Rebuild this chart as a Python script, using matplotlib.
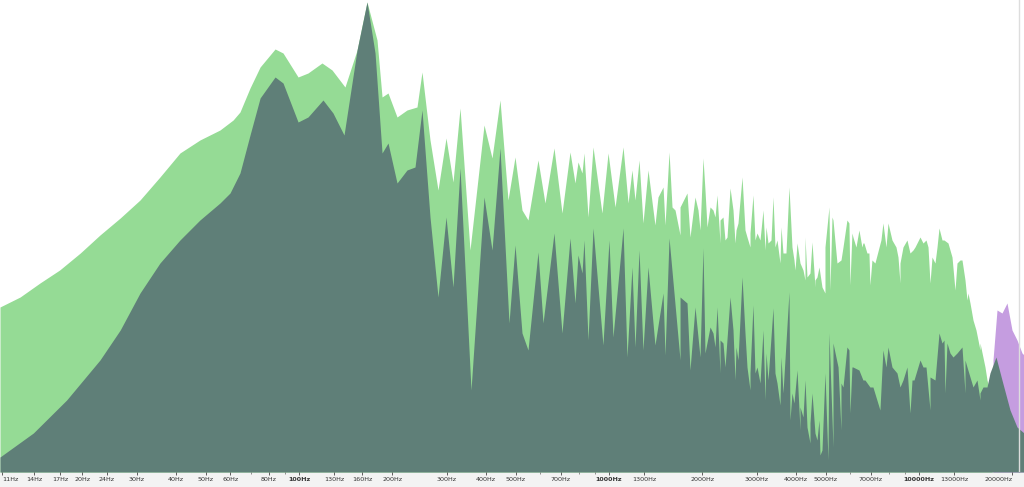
import numpy as np
import matplotlib
matplotlib.use("Agg")
import matplotlib.pyplot as plt
from matplotlib.ticker import FixedLocator, NullFormatter

# peak level (light green): smooth body
peak_hz = [10.85, 12.6, 14.6, 16.9, 19.7, 22.8, 26.5, 30.7, 35.6, 41.3, 47.9, 55.6, 61.3, 64.5, 69.5, 74.9,
           83.7, 88.8, 99.3, 106.9, 118.6, 127.8, 140.7, 153.9, 165.7, 178.5, 185.3, 193.7, 207.1, 223.0,
           240.2, 249.3, 264.6, 280.8, 298.0, 313.9, 330.7, 356.1, 395.2, 419.4, 445.0, 472.3, 497.5, 524.0,
           547.9, 590.1, 621.6, 664.6, 705.3, 748.5, 776.8, 794.3, 818.3, 830.5, 855.6, 888.0,
           949, 993, 1046, 1110, 1152, 1186, 1213, 1250, 1287, 1407, 1516, 1695, 1825, 1966, 2281, 2550,
           2850, 3186, 3561, 3981, 4288, 4618, 4974, 5162, 5987, 6946, 8683, 10852, 13066, 14284, 14935,
           15732, 16572, 17195]
peak_db = [-61.4, -59.4, -56.6, -54.0, -50.6, -47.0, -43.6, -40.0, -35.4, -30.6, -28.0, -26.0, -24.0, -22.4,
           -17.6, -13.4, -9.8, -10.6, -15.4, -14.6, -12.6, -14.0, -17.4, -10.0, -0.4, -8.0, -19.4, -18.6,
           -23.4, -22.0, -21.4, -14.4, -28.0, -38.0, -27.6, -36.4, -21.6, -50.0, -25.0, -31.6, -20.0, -40.0,
           -31.4, -42.0, -44.0, -32.0, -40.6, -29.6, -42.6, -30.4, -36.6, -32.4, -34.6, -30.6, -43.4, -29.4,
           -42.6, -30.6, -41.4, -29.4, -40.6, -34.0, -40.0, -32.0, -44.6, -45.0, -45.0, -47.0, -47.4, -46.0,
           -48.6, -48.6, -49.4, -50.0, -52.6, -54.0, -56.0, -57.4, -58.6, -58.0, -57.0, -57.0, -56.6, -56.6,
           -58.0, -60.0, -64.0, -70.0, -76.0, -80.0]

# peak level: thin spikes above the body
peak_spike_hz = [1336, 1387, 1439, 1494, 1562, 1597, 1633, 1695, 1785, 1894, 1937, 2010, 2040, 2071, 2118,
                 2165, 2198, 2231, 2281, 2332, 2367, 2403, 2457, 2512, 2569, 2607, 2686, 2746, 2787, 2850,
                 2914, 2958, 3002, 3070, 3139, 3210, 3258, 3331, 3381, 3431, 3483, 3588, 3641, 3723, 3807,
                 3893, 3951, 4041, 4132, 4225, 4288, 4352, 4450, 4517, 4618, 4687, 4758, 4865, 4974, 5124,
                 5240, 5279, 5438, 5602, 5687, 5855, 5943, 6077, 6122, 6262, 6401, 6545, 6594, 6643, 6793,
                 6895, 7050, 7209, 7537, 7650, 7826, 7943, 8182, 8429, 8555, 8683, 8879, 9146, 9352, 9564,
                 9707, 9853, 10075, 10302, 10534, 10692, 11015, 11263, 11432, 11602, 11864, 12041, 12404,
                 12778, 13262, 13560, 13763, 14073, 14391, 14606, 14935, 15271, 15732, 16327]
peak_spike_db = [-34.0, -42.0, -39.4, -37.4, -30.4, -41.4, -42.0, -41.4, -38.6, -39.4, -42.0, -31.6, -38.0,
                 -45.4, -41.4, -42.0, -43.4, -39.0, -44.0, -43.4, -48.0, -47.4, -37.6, -42.0, -46.0, -44.6,
                 -35.4, -46.0, -47.4, -46.6, -39.0, -48.0, -46.6, -48.0, -42.0, -45.4, -48.6, -48.0, -39.4,
                 -49.4, -48.0, -45.4, -50.6, -50.6, -37.4, -49.4, -52.0, -48.6, -52.6, -54.0, -47.4, -55.4,
                 -54.6, -48.4, -56.0, -55.4, -53.4, -57.4, -49.4, -41.4,
                 -43.4, -44.0, -52.6, -52.0, -49.4, -44.0, -44.6, -46.6, -47.4, -49.4, -46.0, -49.4, -48.6,
                 -48.6, -50.6, -50.6, -52.0, -52.6, -48.0, -44.6, -49.4, -44.6, -48.0, -49.4, -51.4, -52.6,
                 -49.4, -48.0, -50.6, -50.0, -49.4, -48.6, -47.4, -48.6, -48.0, -49.4, -51.4, -52.6, -49.4,
                 -45.6, -48.0, -48.0, -48.6, -51.4, -52.6, -52.0, -52.0, -56.0, -58.6, -60.6, -64.0, -66.0,
                 -68.6, -73.4]

# peak level above the cut-off (purple)
high_hz = [17327, 17850, 18525, 19226, 19953, 20708, 21491, 21813]
high_db = [-72.0, -62.0, -62.6, -60.6, -66.0, -68.0, -70.6, -71.0]

# average level (dark): body
avg_hz = [10.85, 13.9, 17.8, 22.8, 26.5, 30.7, 35.6, 41.3, 47.9, 55.6, 59.9, 64.5, 69.5, 74.9, 83.7, 88.8,
          99.3, 106.9, 119.5, 128.7, 139.7, 153.9, 165.7, 175.9, 185.3, 193.7, 207.1, 223.0, 236.7, 249.3,
          264.6, 280.8, 298.0, 313.9, 330.7, 358.8, 395.2, 419.4, 445.0, 475.8, 497.5, 524.0, 547.9, 590.1,
          612.5, 664.6, 705.3, 748.5, 776.8, 794.3, 818.3, 830.5, 855.6, 888.0,
          956, 1000, 1030, 1110, 1143, 1186, 1213, 1250, 1287, 1407, 1516, 1695, 1825, 1966, 2281, 2550,
          2850, 3186, 3561, 3836, 4132, 4450, 4793, 5086, 5279, 5602, 5987, 7482, 9352, 10852, 12130,
          14073, 15732, 16572, 16941, 17713, 18521, 19661, 20710, 21812]
avg_db = [-91.4, -86.6, -80.0, -72.0, -66.0, -58.6, -52.6, -48.0, -44.0, -40.6, -38.6, -34.6, -27.0, -19.6,
          -15.4, -16.6, -24.4, -23.4, -20.0, -22.6, -27.0, -10.0, -0.4, -10.6, -30.6, -28.6, -36.6, -34.0,
          -33.4, -22.0, -43.4, -59.4, -43.4, -57.4, -33.6, -78.0, -39.4, -50.0, -29.6, -64.6, -49.0, -66.6,
          -70.0, -50.4, -64.6, -46.6, -66.6, -47.6, -60.6, -51.0, -54.6, -48.0, -68.0, -45.6,
          -69.0, -48.0, -67.4, -45.6, -71.4, -53.4, -69.4, -50.0, -70.0, -69.0, -71.0, -72.0, -74.0, -71.4,
          -74.6, -76.0, -78.0, -80.0, -81.0, -84.0, -86.0, -88.6, -91.0, -92.0, -89.4, -86.0, -82.6, -82.0,
          -82.6, -82.0, -78.6, -78.6, -80.0, -77.4, -74.6, -71.4, -76.0, -82.0, -85.4, -86.6]

# average level: thin spikes above the body
avg_spike_hz = [1336, 1494, 1562, 1695, 1785, 1894, 2010, 2040, 2118, 2165, 2198, 2231, 2281, 2332, 2367,
                2457, 2512, 2569, 2607, 2686, 2746, 2787, 2850, 2914, 2958, 3002, 3070, 3139, 3210, 3258,
                3381, 3431, 3483, 3588, 3641, 3807, 3893, 3951, 4041, 4132, 4225, 4288, 4352, 4450, 4517,
                4618, 4687, 4758, 4865, 4974, 5124, 5279, 5481, 5602, 5687, 5855, 5943, 6077, 6122, 6401,
                6594, 6693, 6946, 7102, 7650, 7826, 7943, 8182, 8492, 8683, 8879, 9146, 9494, 9636, 10075,
                10302, 10534, 10852, 11263, 11602, 11864, 12041, 12312, 12589, 12873, 13262, 13763, 14073,
                14284, 14935, 15384, 15732, 16086]
avg_spike_db = [-53.4, -58.6, -47.6, -59.4, -60.6, -61.4, -49.6, -70.6, -65.4, -66.6, -69.4, -61.4, -68.0,
                -68.6, -73.4, -59.4, -66.0, -69.4, -72.0, -55.4, -66.6, -73.4, -74.6, -61.0, -74.6, -73.4,
                -76.6, -66.0, -70.6, -76.0, -61.6, -74.6, -76.6, -71.4, -78.6, -58.4, -78.6, -80.6, -74.0,
                -81.4, -83.4, -76.0, -85.4, -84.6, -78.6, -86.6, -88.0, -84.0, -90.0, -74.6, -66.6, -68.6,
                -73.4, -76.6, -77.4, -69.4, -70.0, -73.4, -73.4, -74.0,
                -76.0, -76.0, -77.4, -77.4, -70.0, -73.4, -69.4, -73.4, -74.6, -77.4, -76.0, -73.4, -76.0,
                -76.0, -72.0, -73.4, -73.4, -75.4, -76.0, -66.6, -68.6, -68.0, -68.6, -70.6, -71.4, -70.6,
                -69.4, -72.0, -73.4, -77.4, -76.0, -78.6, -77.4]

tick_hz = [11, 14, 17, 20, 24, 30, 40, 50, 60, 80, 100, 130, 160, 200, 300, 400, 500, 700,
           1000, 1300, 2000, 3000, 4000, 5000, 7000, 10000, 13000, 20000]
bold_hz = [100, 1000, 10000]

floor_db = -94.4
green = '#95db95'
dark = '#5f7f78'
purple = '#c59de0'


def outline(body_hz, body_db, spike_hz, spike_db):
    # body readings and spike tops merged in frequency order
    hz = np.array(body_hz + spike_hz, dtype=float)
    db = np.array(body_db + spike_db, dtype=float)
    order = np.argsort(hz, kind='stable')
    return hz[order], db[order]


fig = plt.figure(figsize=(10.24, 4.87), dpi=100)
fig.patch.set_facecolor('#f3f3f3')
ax = fig.add_axes([0, 15 / 487, 1, 472 / 487])
ax.set_facecolor('white')

px, py = outline(peak_hz, peak_db, peak_spike_hz, peak_spike_db)
ax.fill_between(px, py, floor_db, color=green, lw=0)
ax.fill_between(high_hz, high_db, floor_db, color=purple, lw=0)
dx, dy = outline(avg_hz, avg_db, avg_spike_hz, avg_spike_db)
ax.fill_between(dx, dy, floor_db, color=dark, lw=0)
ax.axvline(21000, color='#dddddd', lw=1)

ax.set_xscale('log')
ax.set_xlim(10.85, 21813)
ax.set_ylim(floor_db, 0)
ax.set_yticks([])
for s in ax.spines.values():
    s.set_visible(False)

ax.set_xticks(tick_hz)
ax.set_xticklabels([f'{t}Hz' for t in tick_hz])
minor = [m * 10 ** d for d in range(1, 5) for m in range(1, 10)]
ax.xaxis.set_minor_locator(FixedLocator(minor))
ax.xaxis.set_minor_formatter(NullFormatter())
ax.tick_params(axis='x', which='major', length=2, width=0.6, color='#444444',
               labelsize=4.6, labelcolor='#333333', pad=1.5)
ax.tick_params(axis='x', which='minor', length=1.5, width=0.5, color='#666666')
labels = ax.get_xticklabels()
for lab, t in zip(labels, tick_hz):
    if t in bold_hz:
        lab.set_fontweight('bold')
labels[0].set_horizontalalignment('left')
labels[-1].set_horizontalalignment('right')

fig.savefig('out.png', dpi=100, facecolor=fig.get_facecolor())
